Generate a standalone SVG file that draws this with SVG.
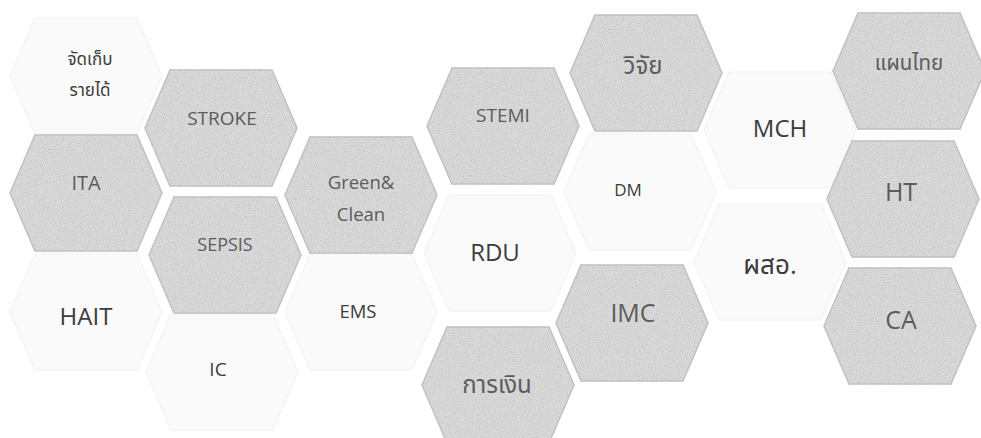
<svg xmlns="http://www.w3.org/2000/svg" width="981" height="438" viewBox="0 0 981 438">
<style>
.g{fill:#dadada;stroke:#c2c2c2;stroke-width:1.5;filter:url(#grain)}
.w{fill:#fafafa;stroke:#f1f1f1;stroke-width:1}
text{font-family:"Open Sans","Noto Sans","Noto Sans Thai","DejaVu Sans",sans-serif;text-anchor:middle;dominant-baseline:central}
.tg{fill:#5c5c5c}
.tw{fill:#3c3c3c}
</style>
<defs>
<polygon id="hex" points="-76,0 -51,-58 51,-58 76,0 51,58 -51,58"/>
<filter id="grain" x="-5%" y="-5%" width="110%" height="110%">
<feTurbulence type="fractalNoise" baseFrequency="0.85" numOctaves="2" seed="3" result="n"/>
<feColorMatrix in="n" type="matrix" values="0 0 0 0 0.55  0 0 0 0 0.55  0 0 0 0 0.55  0 0 0 -2.2 1.3" result="d"/>
<feComposite in="d" in2="SourceGraphic" operator="in" result="dm"/>
<feMerge><feMergeNode in="SourceGraphic"/><feMergeNode in="dm"/></feMerge>
</filter>
</defs>
<rect width="981" height="438" fill="#ffffff"/>
<g id="n-revenue"><use href="#hex" x="86" y="76" class="w"/><text x="90" y="58" font-size="17" class="tw">จัดเก็บ</text><text x="90" y="89" font-size="17" class="tw">รายได้</text></g>
<g id="n-hait"><use href="#hex" x="86" y="312" class="w"/><text x="86" y="315" font-size="24" class="tw">HAIT</text></g>
<g id="n-ic"><use href="#hex" x="222" y="372" class="w"/><text x="218" y="369" font-size="19" class="tw">IC</text></g>
<g id="n-ems"><use href="#hex" x="361" y="312" class="w"/><text x="358" y="310" font-size="18.5" class="tw">EMS</text></g>
<g id="n-rdu"><use href="#hex" x="500" y="253" class="w"/><text x="495" y="251" font-size="24" class="tw">RDU</text></g>
<g id="n-dm"><use href="#hex" x="640" y="192" class="w"/><text x="628" y="189" font-size="17" class="tw">DM</text></g>
<g id="n-mch"><use href="#hex" x="780" y="130" class="w"/><text x="780" y="127" font-size="24" class="tw">MCH</text></g>
<g id="n-pso"><use href="#hex" x="770" y="262" class="w"/><text x="770" y="264" font-size="26" class="tw">ผสอ.</text></g>
<g id="n-ita"><use href="#hex" x="86" y="193" class="g"/><text x="86" y="182" font-size="20" class="tg">ITA</text></g>
<g id="n-stroke"><use href="#hex" x="221" y="128" class="g"/><text x="222" y="118" font-size="19" class="tg">STROKE</text></g>
<g id="n-sepsis"><use href="#hex" x="225" y="255" class="g"/><text x="225" y="244" font-size="18" class="tg">SEPSIS</text></g>
<g id="n-green"><use href="#hex" x="361" y="195" class="g"/><text x="361" y="181" font-size="18.5" class="tg">Green&amp;</text><text x="361" y="213" font-size="18.5" class="tg">Clean</text></g>
<g id="n-stemi"><use href="#hex" x="503" y="126" class="g"/><text x="503" y="115" font-size="19" class="tg">STEMI</text></g>
<g id="n-research"><use href="#hex" x="646" y="73" class="g"/><text x="643" y="64" font-size="24" class="tg">วิจัย</text></g>
<g id="n-thaimed"><use href="#hex" x="909" y="71" class="g"/><text x="909" y="62" font-size="20.5" class="tg">แผนไทย</text></g>
<g id="n-ht"><use href="#hex" x="903" y="199" class="g"/><text x="901" y="191" font-size="25" class="tg">HT</text></g>
<g id="n-ca"><use href="#hex" x="900" y="326" class="g"/><text x="901" y="319" font-size="25" class="tg">CA</text></g>
<g id="n-imc"><use href="#hex" x="632" y="323" class="g"/><text x="633" y="312" font-size="25" class="tg">IMC</text></g>
<g id="n-finance"><use href="#hex" x="498" y="385" class="g"/><text x="497" y="383" font-size="24" class="tg">การเงิน</text></g>
<g id="connectors"></g>
</svg>
